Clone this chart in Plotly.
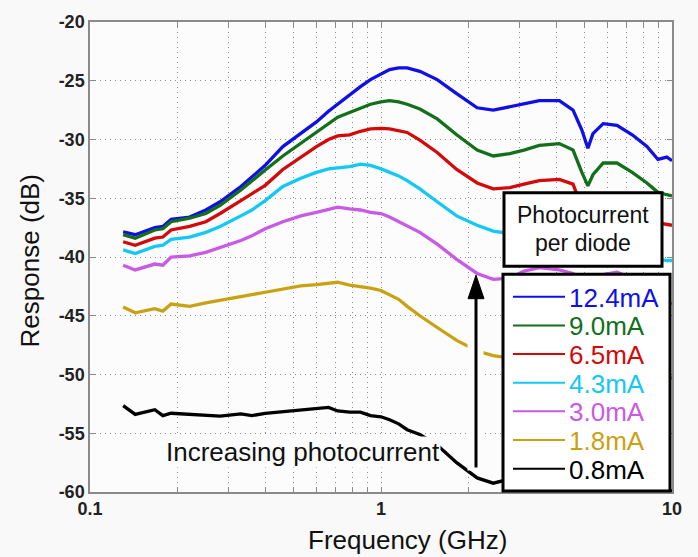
import plotly.graph_objects as go

# ---------------- data ----------------
freq_ghz = [0.13, 0.143, 0.167, 0.178, 0.19, 0.22, 0.25, 0.28, 0.33, 0.36, 0.40, 0.46,
            0.53, 0.60, 0.66, 0.71, 0.78, 0.85, 0.92, 1.0, 1.07, 1.15, 1.23, 1.36,
            1.56, 1.82, 2.14, 2.43, 2.77, 3.1, 3.5, 4.1, 4.57, 4.9, 5.14, 5.35, 5.8,
            6.47, 7.3, 8.2, 8.95, 9.6, 10.0]

resp_12_4mA = [-37.85, -38.1, -37.5, -37.4, -36.8, -36.6, -36.0, -35.3, -34.0, -33.2, -32.2, -30.6,
               -29.5, -28.5, -27.6, -27.0, -26.15, -25.5, -24.9, -24.45, -24.05, -23.9, -23.9, -24.2,
               -24.9, -26.1, -27.3, -27.5, -27.2, -27.0, -26.7, -26.7, -27.5, -29.2, -30.75, -29.5, -28.65,
               -28.8, -29.6, -30.6, -31.7, -31.5, -31.8]
resp_9_0mA = [-38.1, -38.4, -37.7, -37.6, -37.0, -36.7, -36.3, -35.6, -34.3, -33.5, -32.6, -31.4,
              -30.3, -29.35, -28.6, -28.1, -27.7, -27.35, -27.0, -26.8, -26.7, -26.8, -27.0, -27.4,
              -28.25, -29.6, -30.9, -31.4, -31.2, -30.9, -30.5, -30.35, -30.9, -32.8, -33.95, -33.0, -32.0,
              -32.0, -32.8, -33.7, -34.5, -34.7, -34.8]
resp_6_5mA = [-38.7, -39.0, -38.4, -38.3, -37.7, -37.4, -37.0, -36.3, -35.2, -34.6, -33.9, -32.55,
              -31.5, -30.6, -30.0, -29.7, -29.6, -29.3, -29.1, -29.05, -29.1, -29.25, -29.4, -30.05,
              -31.1, -32.55, -33.7, -34.2, -34.1, -33.8, -33.5, -33.4, -33.8, -35.8, -37.0, -36.2, -35.5,
              -35.6, -36.2, -36.8, -37.1, -37.2, -37.3]
resp_4_3mA = [-39.4, -39.7, -39.1, -39.0, -38.5, -38.3, -37.9, -37.4, -36.5, -36.0, -35.2, -34.0,
              -33.3, -32.8, -32.5, -32.4, -32.3, -32.1, -32.2, -32.5, -32.8, -33.1, -33.5, -34.2,
              -35.3, -36.5, -37.3, -37.8, -38.0, -37.9, -37.8, -37.8, -38.3, -39.6, -40.6, -40.0, -39.3,
              -39.3, -39.7, -40.0, -40.2, -40.3, -40.3]
resp_3_0mA = [-40.7, -41.1, -40.6, -40.7, -40.0, -39.9, -39.6, -39.2, -38.6, -38.2, -37.6, -37.0,
              -36.5, -36.2, -35.95, -35.75, -35.9, -36.0, -36.2, -36.3, -36.6, -37.0, -37.3, -37.9,
              -38.9, -40.2, -41.4, -41.9, -41.8, -41.2, -40.9, -41.1, -41.4, -41.8, -42.2, -41.9, -41.5,
              -41.3, -41.8, -42.6, -43.3, -43.8, -44.0]
resp_1_8mA = [-44.25, -44.75, -44.4, -44.6, -44.0, -44.2, -43.9, -43.7, -43.35, -43.2, -43.0, -42.7,
              -42.45, -42.35, -42.25, -42.15, -42.4, -42.5, -42.65, -42.85, -43.2, -43.6, -44.2, -45.0,
              -46.0, -47.1, -48.0, -48.4, -48.6, -48.7, -48.8, -48.9, -49.1, -49.5, -49.8, -49.6, -49.5,
              -49.6, -49.8, -50.0, -50.2, -50.3, -50.3]
resp_0_8mA = [-52.65, -53.4, -53.0, -53.5, -53.3, -53.4, -53.5, -53.55, -53.35, -53.5, -53.3, -53.15,
              -53.0, -52.9, -52.8, -53.1, -53.2, -53.2, -53.5, -53.6, -53.85, -54.2, -54.7, -55.1,
              -56.0, -57.5, -58.8, -59.25, -58.9, -59.6, -59.8, -59.8, -59.9, -59.8, -59.9, -59.9, -59.8,
              -59.8, -59.9, -59.9, -59.8, -59.9, -59.9]

series_labels = ["12.4mA", "9.0mA", "6.5mA", "4.3mA", "3.0mA", "1.8mA", "0.8mA"]
series_values = [resp_12_4mA, resp_9_0mA, resp_6_5mA, resp_4_3mA, resp_3_0mA, resp_1_8mA, resp_0_8mA]

x_tick_vals = [0.1, 0.2, 0.3, 0.4, 0.5, 0.6, 0.7, 0.8, 0.9,
               1, 2, 3, 4, 5, 6, 7, 8, 9, 10]
x_tick_text = ["0.1", "", "", "", "", "", "", "", "",
               "1", "", "", "", "", "", "", "", "", "10"]
y_tick_vals = [-60, -55, -50, -45, -40, -35, -30, -25, -20]
y_tick_text = ["-60", "-55", "-50", "-45", "-40", "-35", "-30", "-25", "-20"]

x_title = "Frequency (GHz)"
y_title = "Response (dB)"
note_text = "Increasing photocurrent"
box_text = ["Photocurrent", "per diode"]

# ---------------- styling ----------------
colors = ["#1010e6", "#13701a", "#d20a0a", "#14c8f5", "#c95ae3", "#c9a214", "#000000"]
FONT = "Liberation Sans, Arial, sans-serif"

W, H = 698, 557
L, R, T, B = 90, 672, 13, 492  # plot-area pixel bounds


def px(xpix):
    return (xpix - L) / (R - L)


def py(ypix):
    return (B - ypix) / (B - T)


fig = go.Figure()
for lab, vals, col in zip(series_labels, series_values, colors):
    fig.add_trace(go.Scatter(x=freq_ghz, y=vals, mode="lines", name=lab,
                             line=dict(color=col, width=3.3), showlegend=False))

axis_common = dict(
    showline=True, linecolor="#8a8a8a", linewidth=1.5, mirror="allticks",
    ticks="inside", ticklen=5, tickcolor="#8a8a8a", tickwidth=1,
    showgrid=True, gridcolor="#8a8a8a", griddash="1px,4px", gridwidth=1,
    zeroline=False,
    tickfont=dict(family=FONT, size=18, color="#222222", weight="bold"),
)

fig.update_xaxes(type="log", range=[-1, 1], tickmode="array",
                 tickvals=x_tick_vals, ticktext=x_tick_text, **axis_common)
fig.update_yaxes(range=[-60, -20], tickmode="array",
                 tickvals=y_tick_vals, ticktext=y_tick_text, **axis_common)

shapes = []
# white gap around arrow
shapes.append(dict(type="rect", xref="paper", yref="paper",
                   x0=px(467.5), x1=px(483.5), y0=py(470), y1=py(279),
                   fillcolor="#fcfcfc", line=dict(width=0), layer="above"))
# arrow shaft
shapes.append(dict(type="line", xref="paper", yref="paper",
                   x0=px(476), x1=px(476), y0=py(467), y1=py(292),
                   line=dict(color="black", width=3), layer="above"))
# arrow head
shapes.append(dict(type="path", xref="paper", yref="paper",
                   path=f"M {px(468)} {py(295)} L {px(484)} {py(295)} L {px(476)} {py(271)} Z",
                   fillcolor="black", line=dict(color="black", width=1), layer="above"))
# legend box
shapes.append(dict(type="rect", xref="paper", yref="paper",
                   x0=px(503), x1=px(670), y0=py(491), y1=py(270),
                   fillcolor="white", line=dict(color="black", width=3), layer="above"))
# title box
shapes.append(dict(type="rect", xref="paper", yref="paper",
                   x0=px(504), x1=px(662), y0=py(262), y1=py(187),
                   fillcolor="white", line=dict(color="black", width=3), layer="above"))

annotations = []
row0, step = 293, 29.2
for i, (lab, col) in enumerate(zip(series_labels, colors)):
    yc = row0 + i * step
    shapes.append(dict(type="line", xref="paper", yref="paper",
                       x0=px(513), x1=px(565), y0=py(yc), y1=py(yc),
                       line=dict(color=col, width=2), layer="above"))
    annotations.append(dict(xref="paper", yref="paper", x=px(567), y=py(yc + 1),
                            text=lab, showarrow=False, xanchor="left", yanchor="middle",
                            font=dict(family=FONT, size=26, color=col)))

annotations.append(dict(xref="paper", yref="paper", x=px(583), y=py(210),
                        text=box_text[0], showarrow=False, xanchor="center", yanchor="middle",
                        font=dict(family=FONT, size=23, color="#111111")))
annotations.append(dict(xref="paper", yref="paper", x=px(583), y=py(238),
                        text=box_text[1], showarrow=False, xanchor="center", yanchor="middle",
                        font=dict(family=FONT, size=23, color="#111111")))
annotations.append(dict(xref="paper", yref="paper", x=px(303), y=py(451),
                        text=note_text, showarrow=False, xanchor="center", yanchor="middle",
                        bgcolor="#fcfcfc", borderpad=0,
                        font=dict(family=FONT, size=26, color="#111111")))
annotations.append(dict(xref="paper", yref="paper", x=px(407), y=py(541),
                        text=x_title, showarrow=False, xanchor="center", yanchor="middle",
                        font=dict(family=FONT, size=26, color="#111111")))
annotations.append(dict(xref="paper", yref="paper", x=px(30), y=py(257),
                        text=y_title, showarrow=False, xanchor="center", yanchor="middle",
                        textangle=-90,
                        font=dict(family=FONT, size=26, color="#111111")))

fig.update_layout(
    width=W, height=H, autosize=False,
    margin=dict(l=L, r=W - R, t=T, b=H - B, pad=0),
    paper_bgcolor="#f9f9f9", plot_bgcolor="#fcfcfc",
    shapes=shapes, annotations=annotations, showlegend=False,
)

fig.write_html("out.html")
